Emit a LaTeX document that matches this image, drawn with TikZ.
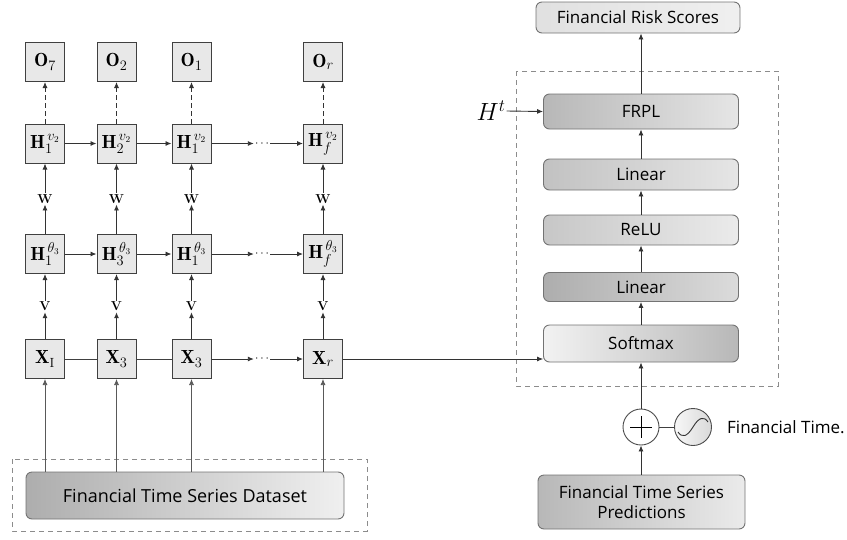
\documentclass[tikz,border=0pt]{standalone}
\usepackage{fontspec}
\newfontfamily\boxfont{Open Sans}
\usetikzlibrary{arrows.meta,calc}
\begin{document}
\begin{tikzpicture}[x=1pt,y=-1pt,
  cell/.style={draw=black!75, fill=black!9, line width=1pt, minimum width=39pt, minimum height=39pt, inner sep=0pt, font=\fontsize{19}{21}\selectfont},
  rbox/.style={draw=black!55, rounded corners=6pt, line width=0.9pt, minimum width=195pt, inner sep=0pt, font=\boxfont\fontsize{17}{20}\selectfont},
  arr/.style={-{Latex[length=6pt,width=5pt]}, line width=0.9pt, draw=black!80},
  plain/.style={line width=0.9pt, draw=black!75},
  lbl/.style={font=\bfseries\fontsize{13}{14}\selectfont, inner sep=1pt},
  dots/.style={font=\fontsize{13}{13}\selectfont, inner sep=1pt},
  dashbox/.style={draw=black!45, dashed, dash pattern=on 5pt off 4pt, line width=0.8pt}
]
\useasboundingbox (0,0) rectangle (847,539);

% dashed frames
\draw[dashbox] (12,459) rectangle (367,531);
\draw[dashbox] (516,71) rectangle (778,386);

% left grid
\node[cell] (O1) at (45,62) {$\mathbf{O}_7$};
\node[cell] (O2) at (116.5,62) {$\mathbf{O}_2$};
\node[cell] (O3) at (191.5,62) {$\mathbf{O}_1$};
\node[cell] (O4) at (323,62) {$\mathbf{O}_r$};

\node[cell] (A1) at (45,143.5) {$\mathbf{H}_1^{\,v_2}$};
\node[cell] (A2) at (116.5,143.5) {$\mathbf{H}_2^{\,v_2}$};
\node[cell] (A3) at (191.5,143.5) {$\mathbf{H}_1^{\,v_2}$};
\node[cell] (A4) at (323,143.5) {$\mathbf{H}_f^{\,v_2}$};

\node[cell] (B1) at (45,254) {$\mathbf{H}_1^{\,\theta_3}$};
\node[cell] (B2) at (116.5,254) {$\mathbf{H}_3^{\,\theta_3}$};
\node[cell] (B3) at (191.5,254) {$\mathbf{H}_1^{\,\theta_3}$};
\node[cell] (B4) at (323,254) {$\mathbf{H}_f^{\,\theta_3}$};

\node[cell] (X1) at (45,359) {$\mathbf{X}_{\mathrm{I}}$};
\node[cell] (X2) at (116.5,359) {$\mathbf{X}_3$};
\node[cell] (X3) at (191.5,359) {$\mathbf{X}_3$};
\node[cell] (X4) at (323,359) {$\mathbf{X}_r$};

\foreach \i in {1,2,3,4}{
  \node[lbl] (W\i) at ($(A\i)!0.5!(B\i)$) {W};
  \node[lbl] (V\i) at ($(B\i)!0.5!(X\i)$) {V};
  \draw[arr, dashed, dash pattern=on 5pt off 3pt] (A\i.north) -- (O\i.south);
  \draw[arr] (B\i.north) -- (W\i.south);
  \draw[arr] (W\i.north) -- (A\i.south);
  \draw[arr] (X\i.north) -- (V\i.south);
  \draw[arr] (V\i.north) -- (B\i.south);
}

% dots
\node[dots] (dA) at (262,143.5) {$\cdots$};
\node[dots] (dB) at (262,254) {$\cdots$};
\node[dots] (dX) at (262,359) {$\cdots$};

\draw[arr] (A1) -- (A2);
\draw[arr] (A2) -- (A3);
\draw[arr] (A3) -- (dA);
\draw[arr] (dA) -- (A4);
\draw[arr] (B1) -- (B2);
\draw[arr] (B2) -- (B3);
\draw[arr] (B3) -- (dB);
\draw[arr] (dB) -- (B4);
\draw[plain] (X1) -- (X2);
\draw[plain] (X2) -- (X3);
\draw[arr] (X3) -- (dX);
\draw[arr] (dX) -- (X4);

% dataset
\node[rbox, minimum width=318pt, minimum height=47pt, left color=black!32, right color=black!6, font=\boxfont\fontsize{18}{21}\selectfont] (data) at (185,495.5) {Financial Time Series Dataset};
\foreach \i in {1,2,3,4}{
  \draw[arr, line width=0.7pt, draw=black!65] (data.north -| X\i) -- (X\i.south);
}

% right stack
\node[rbox, minimum width=204pt, minimum height=31pt, left color=black!12, right color=black!6] (frs) at (638,17.5) {Financial Risk Scores};
\node[rbox, minimum height=35pt, left color=black!28, right color=black!10] (frpl) at (641,111.5) {FRPL};
\node[rbox, minimum height=31pt, left color=black!24, right color=black!10] (lin1) at (641,174.5) {Linear};
\node[rbox, minimum height=30pt, left color=black!22, right color=black!8] (relu) at (641,230) {ReLU};
\node[rbox, minimum height=29pt, left color=black!32, right color=black!14] (lin2) at (641,287) {Linear};
\node[rbox, minimum height=37pt, left color=black!5, right color=black!28] (soft) at (641,343.5) {Softmax};

\draw[arr] (frpl.north) -- (frs.south -| frpl.north);
\draw[arr] (lin1.north) -- (frpl.south);
\draw[arr] (relu.north) -- (lin1.south);
\draw[arr] (lin2.north) -- (relu.south);
\draw[arr] (soft.north) -- (lin2.south);

\node[font=\fontsize{25}{27}\selectfont, inner sep=1pt] (Ht) at (491,111) {$H^t$};
\draw[arr] (Ht.east) -- (frpl.west);

\draw[arr, line width=0.7pt] (X4.east) -- (X4.east -| soft.west);

% positional encoding
\node[circle, draw=black!70, line width=0.9pt, fill=white, minimum size=36pt, inner sep=0pt] (plus) at (641,427) {};
\draw[line width=0.9pt] ($(plus.center)+(-11,0)$) -- ($(plus.center)+(11,0)$);
\draw[line width=0.9pt] ($(plus.center)+(0,-11)$) -- ($(plus.center)+(0,11)$);
\node[circle, draw=black!70, line width=0.9pt, left color=black!3, right color=black!15, minimum size=37pt, inner sep=0pt] (sine) at (693,427) {};
\draw[line width=0.9pt, draw=black!80] ($(sine.center)+(-15,5)$) .. controls ($(sine.center)+(-11,11)$) and ($(sine.center)+(-6,10)$) .. ($(sine.center)+(0,0)$) .. controls ($(sine.center)+(6,-10)$) and ($(sine.center)+(11,-11)$) .. ($(sine.center)+(15,-5)$);
\draw[plain] (plus.east) -- (sine.west);
\node[anchor=west, font=\boxfont\fontsize{17}{20}\selectfont, inner sep=0pt] (ftl) at (727,427) {Financial Time.};

\node[rbox, minimum width=207pt, minimum height=54pt, left color=black!28, right color=black!8, align=center, font=\boxfont\fontsize{17}{20}\selectfont] (pred) at (641.5,502) {Financial Time Series\\Predictions};

\draw[arr] (pred.north -| plus.south) -- (plus.south);
\draw[arr] (plus.north) -- (soft.south);
\end{tikzpicture}
\end{document}
